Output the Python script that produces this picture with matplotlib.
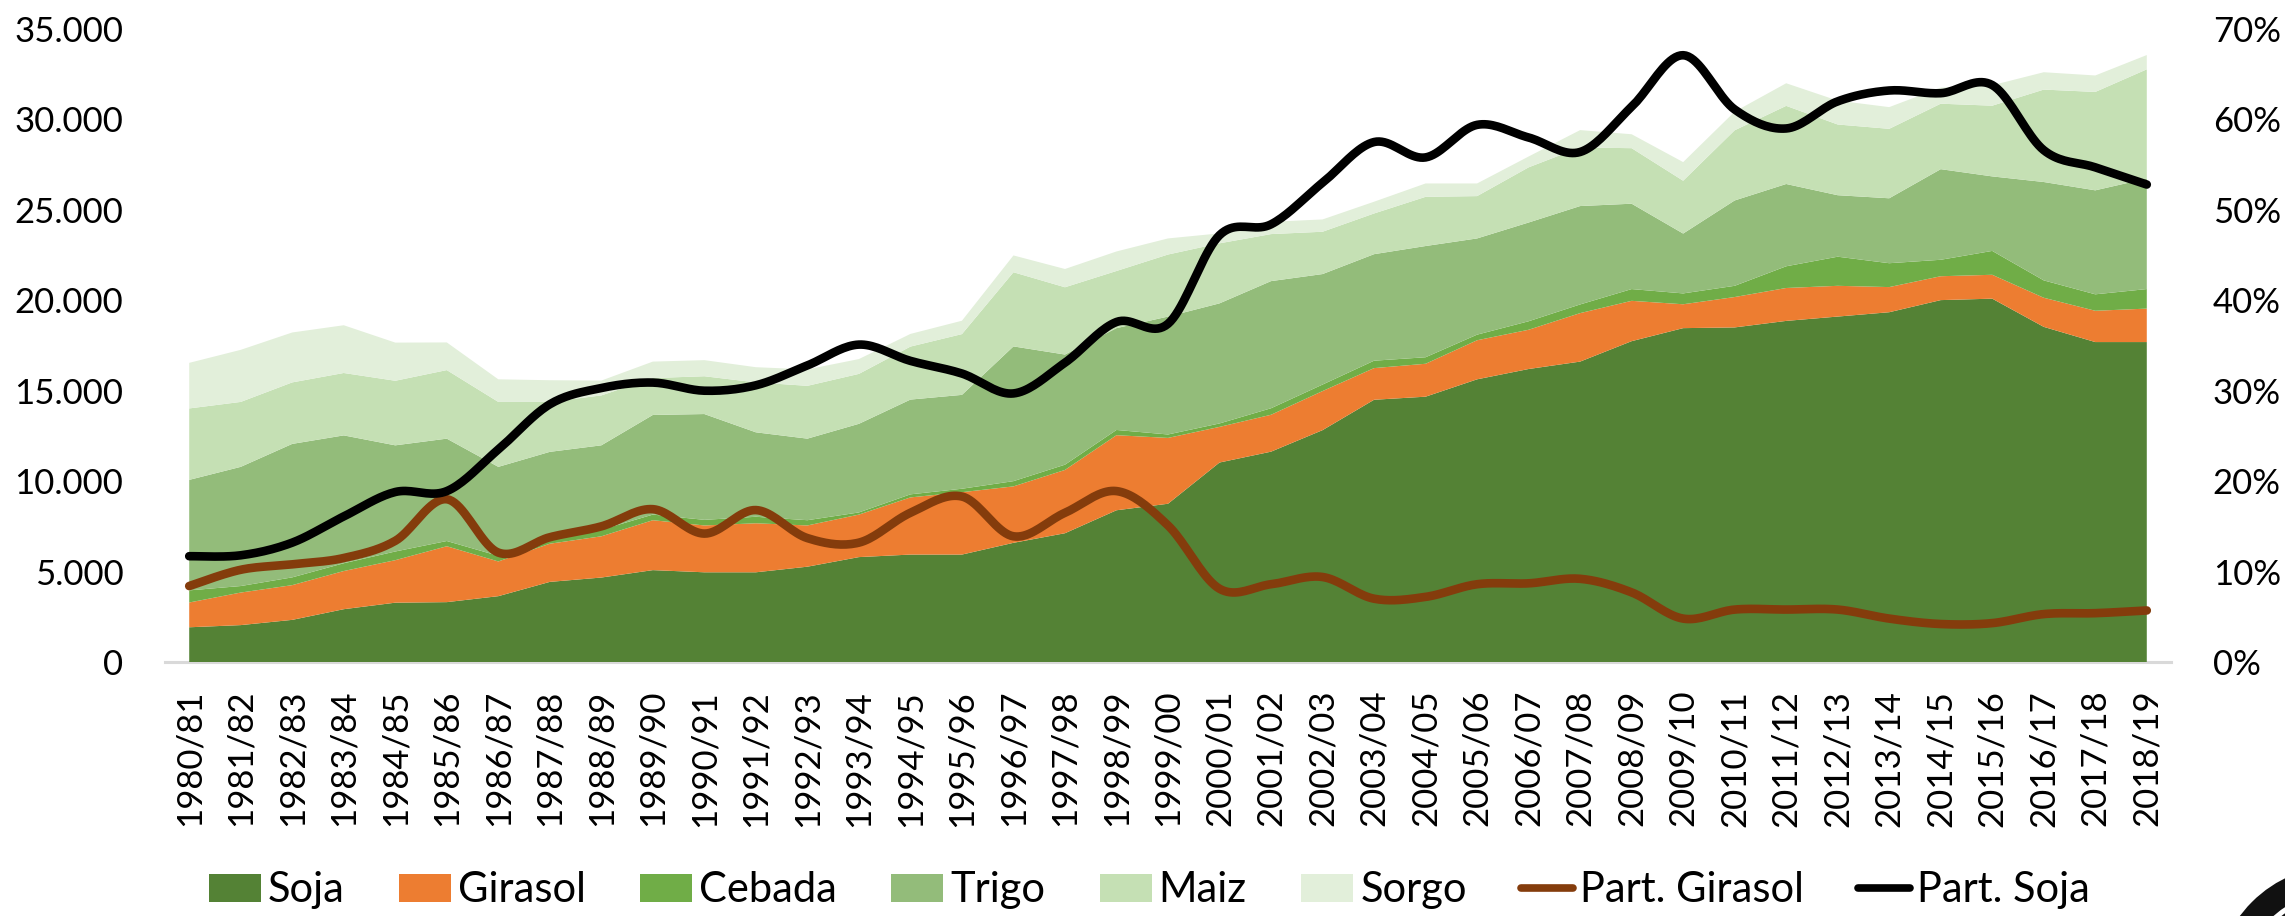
import numpy as np
import matplotlib
matplotlib.use("Agg")
import matplotlib.pyplot as plt
from matplotlib.patches import Patch, Circle
from matplotlib.lines import Line2D
from matplotlib.ticker import FuncFormatter, FixedLocator

# ---------------- data (thousand ha) ----------------
campaigns = ["1980/81", "1981/82", "1982/83", "1983/84", "1984/85", "1985/86", "1986/87",
             "1987/88", "1988/89", "1989/90", "1990/91", "1991/92", "1992/93", "1993/94",
             "1994/95", "1995/96", "1996/97", "1997/98", "1998/99", "1999/00", "2000/01",
             "2001/02", "2002/03", "2003/04", "2004/05", "2005/06", "2006/07", "2007/08",
             "2008/09", "2009/10", "2010/11", "2011/12", "2012/13", "2013/14", "2014/15",
             "2015/16", "2016/17", "2017/18", "2018/19"]

soja = [1920, 2040, 2330, 2920, 3280, 3310, 3640, 4430, 4670, 5080, 4960, 4960, 5270,
        5800, 5940, 5940, 6590, 7120, 8390, 8750, 11030, 11630, 12820, 14500, 14670,
        15630, 16200, 16610, 17740, 18460, 18500, 18860, 19100, 19340, 20010, 20090,
        18530, 17690, 17690]
girasol = [1370, 1800, 1920, 2110, 2350, 3090, 1920, 2110, 2280, 2760, 2590, 2710, 2280,
           2350, 3160, 3450, 3120, 3500, 4150, 3640, 1970, 2040, 2160, 1750, 1820, 2160,
           2170, 2680, 2230, 1320, 1680, 1820, 1700, 1390, 1320, 1320, 1610, 1730, 1850]
cebada = [670, 360, 430, 430, 480, 290, 310, 290, 360, 310, 310, 360, 290, 120, 170, 190,
          290, 290, 290, 190, 190, 360, 360, 410, 360, 310, 470, 480, 650, 600, 620, 1200,
          1610, 1320, 910, 1320, 960, 910, 1080]
trigo = [6110, 6590, 7380, 7070, 5870, 5660, 4920, 4790, 4670, 5510, 5850, 4670, 4510,
         4900, 5240, 5190, 7450, 6090, 5630, 6520, 6640, 7030, 6110, 5890, 6150, 5320,
         5460, 5440, 4720, 3310, 4720, 4550, 3400, 3590, 5010, 4120, 5440, 5750, 6110]
maiz = [3950, 3590, 3400, 3450, 3570, 3790, 3590, 2760, 2760, 2040, 2090, 2760, 2920,
        2760, 2930, 3360, 4100, 3720, 3160, 3430, 3320, 2600, 2340, 2250, 2720, 2340,
        3050, 3240, 3070, 2920, 3880, 4320, 3910, 3840, 3620, 3910, 5110, 5440, 6040]
sorgo = [2520, 2880, 2760, 2640, 2110, 1530, 1250, 1200, 820, 910, 890, 840, 910, 820,
         700, 740, 930, 1010, 1080, 890, 550, 680, 680, 650, 740, 700, 600, 960, 770, 1030,
         1030, 1250, 1320, 1200, 890, 1130, 960, 910, 790]

# share of total area (%)
part_girasol = [8.4, 10.2, 10.8, 11.5, 13.4, 18.0, 12.1, 13.8, 15.0, 16.9, 14.2, 16.8, 13.7,
                13.2, 16.5, 18.3, 13.9, 16.5, 18.9, 15.1, 8.1, 8.6, 9.4, 7.0, 7.2, 8.6, 8.7,
                9.2, 7.7, 4.8, 5.8, 5.8, 5.8, 4.8, 4.2, 4.3, 5.3, 5.4, 5.7]
part_soja = [11.7, 11.8, 13.2, 16.1, 18.8, 18.9, 23.5, 28.5, 30.3, 30.9, 30.0, 30.6, 32.8,
             35.1, 33.3, 31.9, 29.7, 33.1, 37.6, 37.4, 47.2, 48.4, 53.0, 57.5, 55.8, 59.4,
             58.0, 56.4, 61.4, 67.1, 61.1, 59.0, 62.0, 63.2, 62.9, 63.8, 56.6, 54.7, 52.8]

area_names = ["Soja", "Girasol", "Cebada", "Trigo", "Maiz", "Sorgo"]
area_colors = ["#548235", "#ED7D31", "#70AD47", "#93BC7A", "#C5E0B4", "#E2EFDA"]
line_names = ["Part. Girasol", "Part. Soja"]
line_colors = ["#843C0C", "#000000"]

FONT = ["Lato", "DejaVu Sans"]
plt.rcParams["font.family"] = FONT


def smooth(xs, ys, n=20):
    """Catmull-Rom style smoothing (like Excel smoothed lines)."""
    xs = np.asarray(xs, float)
    ys = np.asarray(ys, float)
    P = np.column_stack([xs, ys])
    P = np.vstack([P[0], P, P[-1]])
    out = []
    for i in range(1, len(P) - 2):
        p0, p1, p2, p3 = P[i - 1], P[i], P[i + 1], P[i + 2]
        c1 = p1 + (p2 - p0) / 6.0
        c2 = p2 - (p3 - p1) / 6.0
        t = np.linspace(0, 1, n, endpoint=False)[:, None]
        b = ((1 - t) ** 3) * p1 + 3 * ((1 - t) ** 2) * t * c1 + 3 * (1 - t) * t ** 2 * c2 + t ** 3 * p2
        out.append(b)
    out.append(P[-2][None, :])
    out = np.vstack(out)
    return out[:, 0], out[:, 1]


W, H = 2285, 916
fig = plt.figure(figsize=(W / 100, H / 100), dpi=100)
ax = fig.add_axes([165 / W, 1 - 662 / H, (2171 - 165) / W, (662 - 29) / H])

x = np.arange(len(campaigns))
series = [soja, girasol, cebada, trigo, maiz, sorgo]
ax.stackplot(x, *series, colors=area_colors, linewidth=0, labels=area_names)

ax.set_xlim(-0.47, len(campaigns) - 1 + 0.47)
ax.set_ylim(0, 35000)
ax.yaxis.set_major_locator(FixedLocator(np.arange(0, 35001, 5000)))
ax.yaxis.set_major_formatter(FuncFormatter(lambda v, p: f"{int(v):,}".replace(",", ".")))
ax.set_xticks(x)
ax.set_xticklabels(campaigns, rotation=90)
ax.tick_params(axis="both", length=0, labelsize=25, colors="#000000")
ax.tick_params(axis="y", pad=30)
ax.tick_params(axis="x", pad=20)
for s in ["top", "right", "left"]:
    ax.spines[s].set_visible(False)
ax.spines["bottom"].set_color("#D9D9D9")
ax.spines["bottom"].set_linewidth(2.2)
ax.spines["bottom"].set_zorder(0)

ax2 = ax.twinx()
ax2.set_ylim(0, 0.7)
ax2.yaxis.set_major_locator(FixedLocator(np.arange(0, 0.71, 0.1)))
ax2.yaxis.set_major_formatter(FuncFormatter(lambda v, p: f"{v * 100:.0f}%"))
ax2.tick_params(axis="y", length=0, labelsize=25, colors="#000000", pad=30)
for s in ["top", "right", "left", "bottom"]:
    ax2.spines[s].set_visible(False)

for vals, col in zip([part_girasol, part_soja], line_colors):
    sx, sy = smooth(x, np.asarray(vals) / 100.0)
    ax2.plot(sx, sy, color=col, lw=6.2, solid_capstyle="round", solid_joinstyle="round")

handles = [Patch(facecolor=c, edgecolor="none", label=n) for n, c in zip(area_names, area_colors)]
handles += [Line2D([0], [0], color=c, lw=5.5, solid_capstyle="round", label=n)
            for n, c in zip(line_names, line_colors)]
fig.legend(handles=handles, loc="center", bbox_to_anchor=(0.503, 0.028), ncol=8,
           frameon=False, fontsize=30, handlelength=1.25, handleheight=0.67,
           handletextpad=0.17, columnspacing=1.3, borderaxespad=0)

# partial circular logo in the bottom-right corner
cx, cy = 2340 / 100, (H - 990) / 100
fig.add_artist(Circle((cx, cy), 1.12, transform=fig.dpi_scale_trans, facecolor="none",
                      edgecolor="#111111", lw=18, clip_on=False))
fig.add_artist(Circle((cx, cy), 0.93, transform=fig.dpi_scale_trans, facecolor="none",
                      edgecolor="#111111", lw=2, clip_on=False))

fig.savefig("out.png", dpi=100)
